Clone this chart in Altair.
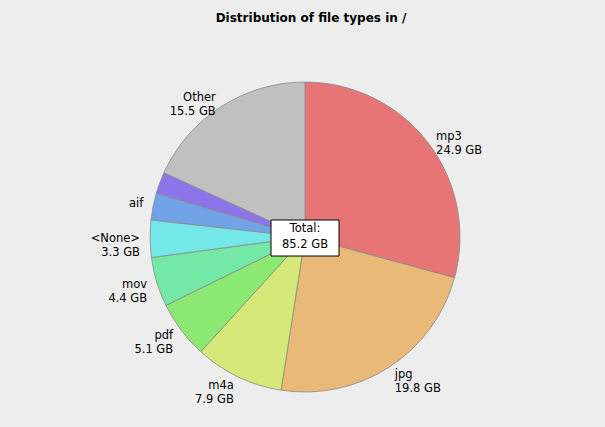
import altair as alt
import pandas as pd

# ---- data ----
types = ["mp3", "jpg", "m4a", "pdf", "mov", "<None>", "aif", "(unlabeled)", "Other"]
sizes_gb = [24.9, 19.8, 7.9, 5.1, 4.4, 3.3, 2.4, 1.9, 15.5]
labels = ["mp3\n24.9 GB", "jpg\n19.8 GB", "m4a\n7.9 GB", "pdf\n5.1 GB", "mov\n4.4 GB",
          "<None>\n3.3 GB", "aif", "", "Other\n15.5 GB"]
colors = ["#e87575", "#e9b977", "#d6e878", "#8be873", "#74e8a6",
          "#74e8e8", "#72a2e8", "#8c74ea", "#c0c0c0"]
title_text = "Distribution of file types in  /"
total_lines = ["Total:", "85.2 GB"]

df = pd.DataFrame({"type": types, "size": sizes_gb, "label": labels, "idx": list(range(len(types)))})

CX, CY, R, LR = 305, 237, 155, 165
FONT = "DejaVu Sans"

base = alt.Chart(df)

pie = base.mark_arc(radius=R, stroke="#8a8a8a", strokeWidth=0.8).encode(
    theta=alt.Theta("size:Q", stack=True),
    order=alt.Order("idx:O"),
    color=alt.Color("type:N", scale=alt.Scale(domain=types, range=colors), legend=None),
    x=alt.value(CX),
    y=alt.value(CY),
)

lab = base.transform_window(
    cum="sum(size)", sort=[alt.SortField("idx")], frame=[None, 0]
).transform_joinaggregate(
    total="sum(size)"
).transform_calculate(
    mid="(datum.cum - datum.size/2) / datum.total * 2 * PI",
).transform_calculate(
    lx=f"{CX} + {LR} * sin(datum.mid)",
    ly=f"{CY} - {LR} * cos(datum.mid)",
    side="sin(datum.mid) > 0 ? 'r' : 'l'",
)

def label_layer(side, align):
    return lab.transform_filter(alt.datum.side == side).mark_text(
        align=align, baseline="middle", font=FONT, fontSize=11.5, lineBreak="\n",
        lineHeight=14, color="#000000"
    ).encode(
        x=alt.X("lx:Q", scale=None),
        y=alt.Y("ly:Q", scale=None),
        text="label:N",
    )

right_labels = label_layer("r", "left")
left_labels = label_layer("l", "right")

box = alt.Chart(pd.DataFrame({"k": [0]})).mark_rect(
    fill="white", stroke="black", strokeWidth=1
).encode(
    x=alt.value(CX - 34), x2=alt.value(CX + 34),
    y=alt.value(CY - 17), y2=alt.value(CY + 19),
)

total_txt = alt.Chart(pd.DataFrame({"t": ["\n".join(total_lines)]})).mark_text(
    align="center", baseline="top", font=FONT, fontSize=11.5, lineBreak="\n",
    lineHeight=16, color="black"
).encode(x=alt.value(CX), y=alt.value(CY - 14), text="t:N")

title = alt.Chart(pd.DataFrame({"t": [title_text]})).mark_text(
    align="center", baseline="middle", font=FONT, fontSize=12, fontWeight="bold", color="black"
).encode(x=alt.value(311), y=alt.value(18), text="t:N")

chart = alt.layer(pie, left_labels, right_labels, box, total_txt, title).properties(
    width=605, height=427,
    autosize=alt.AutoSizeParams(type="none"),
    padding=0,
    background="#ededed",
).configure_view(stroke=None)

chart.save("out.html", embed_options={"renderer": "svg", "actions": False})
